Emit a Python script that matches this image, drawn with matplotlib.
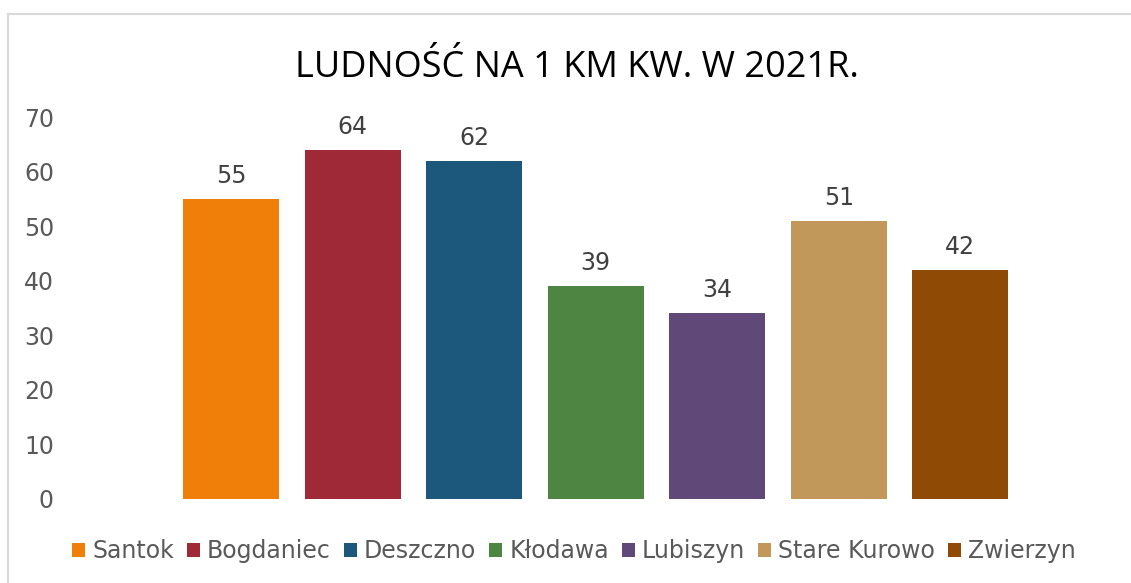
import matplotlib
matplotlib.use("Agg")
import matplotlib.pyplot as plt
from matplotlib.patches import Patch
from matplotlib.lines import Line2D

plt.rcParams["font.family"] = ["DejaVu Sans"]

categories = ["Santok", "Bogdaniec", "Deszczno", "Kłodawa", "Lubiszyn", "Stare Kurowo", "Zwierzyn"]
values = [55, 64, 62, 39, 34, 51, 42]
colors = ["#F07F09", "#9F2936", "#1B587C", "#4E8542", "#604878", "#C19859", "#8F4A06"]
yticks = [0, 10, 20, 30, 40, 50, 60, 70]
title = "LUDNOŚĆ NA 1 KM KW. W 2021R."

W, H = 1131, 583
fig = plt.figure(figsize=(W / 100, H / 100), dpi=100)
fig.patch.set_facecolor("white")

ax = fig.add_axes([65 / W, (H - 499) / H, (1021 - 65) / W, (499 - 117) / H])
x = list(range(len(categories)))
bars = ax.bar(x, values, width=0.79, color=colors)
for xi, v in zip(x, values):
    ax.annotate(str(v), (xi, v), xytext=(0, 8), textcoords="offset points",
                ha="center", va="bottom", fontsize=17, color="#404040")

ax.set_ylim(0, 70)
ax.set_xlim(-1.366, 6.5)
ax.set_yticks(yticks)
ax.set_yticklabels([str(t) for t in yticks], fontsize=17, color="#595959")
ax.set_xticks([])
ax.tick_params(axis="y", length=0, pad=8)
for s in ax.spines.values():
    s.set_visible(False)

fig.text(577 / W, (H - 68) / H, title, ha="center", va="center",
         fontsize=26, family="Open Sans", color="black")

handles = [Patch(facecolor=c, edgecolor="none") for c in colors]
leg = fig.legend(handles, categories, loc="center", bbox_to_anchor=(574 / W, (H - 551) / H),
                 ncol=len(categories), frameon=False, fontsize=17,
                 handlelength=0.55, handleheight=0.55, handletextpad=0.3,
                 columnspacing=0.55, borderaxespad=0)
for t in leg.get_texts():
    t.set_color("#595959")

# chart border (left and top visible)
fig.add_artist(Line2D([7.5 / W, 7.5 / W], [0, (H - 14) / H], color="#D9D9D9", lw=1.5,
                      transform=fig.transFigure))
fig.add_artist(Line2D([7.5 / W, 1], [(H - 14) / H, (H - 14) / H], color="#D9D9D9", lw=1.5,
                      transform=fig.transFigure))

fig.savefig("out.png", dpi=100, facecolor="white")
